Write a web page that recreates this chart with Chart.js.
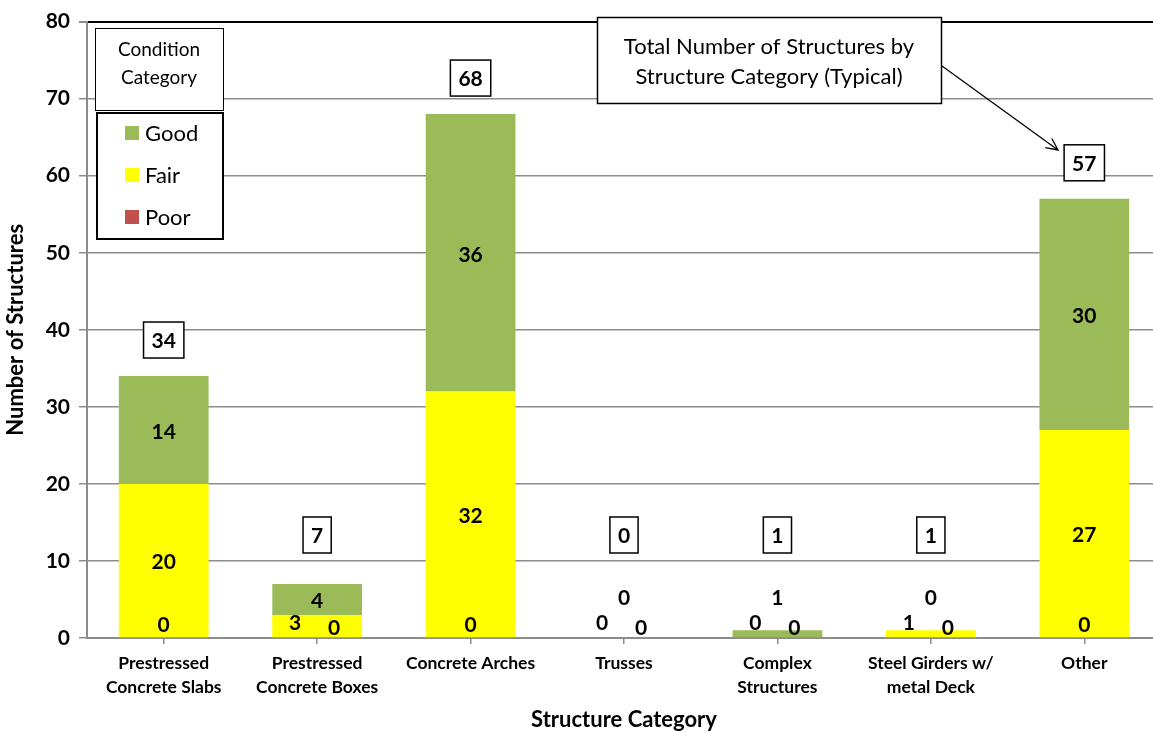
<!DOCTYPE html>
<html lang="en">
<head>
    <meta charset="UTF-8">
    <title>Structures by Category</title>
    <script src="https://cdn.jsdelivr.net/npm/chart.js@4.4.0/dist/chart.umd.min.js"></script>
    <style>
        html, body { margin: 0; padding: 0; background: #fff; overflow: hidden; }
        #wrap { position: relative; width: 1153px; height: 733px; overflow: hidden; }
    </style>
</head>
<body>
<div id="wrap">
    <canvas id="myChart" width="1161" height="733"></canvas>
</div>

<script type="text/javascript">
    var categories = [
        ["Prestressed", "Concrete Slabs"],
        ["Prestressed", "Concrete Boxes"],
        "Concrete Arches",
        "Trusses",
        ["Complex", "Structures"],
        ["Steel Girders w/", "metal Deck"],
        "Other"
    ];
    var poor = [0, 0, 0, 0, 0, 0, 0];
    var fair = [20, 3, 32, 0, 0, 1, 27];
    var good = [14, 4, 36, 0, 1, 0, 30];
    var totals = [34, 7, 68, 0, 1, 1, 57];
    var yTicks = [0, 10, 20, 30, 40, 50, 60, 70, 80];

    var FONT = "Lato, 'Liberation Sans', sans-serif";

    // labels, total boxes, legend and callout drawn by hand
    var extras = {
        id: "extras",
        afterDatasetsDraw: function (chart) {
            var ctx = chart.ctx;
            var y = chart.scales.y;
            var base = y.getPixelForValue(0);
            var mFair = chart.getDatasetMeta(1).data;
            var mGood = chart.getDatasetMeta(2).data;

            ctx.save();
            ctx.fillStyle = "#000";
            ctx.textAlign = "center";
            ctx.textBaseline = "middle";
            ctx.font = "bold 21px " + FONT;

            for (var i = 0; i < categories.length; i++) {
                var cx = mFair[i].x;
                var fairH = mFair[i].base - mFair[i].y;
                var goodH = mGood[i].base - mGood[i].y;
                var small = fairH < 30;

                // poor
                if (small) {
                    ctx.fillText(String(poor[i]), cx + 17, base - 10);
                } else {
                    ctx.fillText(String(poor[i]), cx, base - 13);
                }
                // fair
                if (small) {
                    var fy = Math.min((mFair[i].y + mFair[i].base) / 2, base - 15);
                    ctx.fillText(String(fair[i]), cx - 22, fy);
                } else {
                    ctx.fillText(String(fair[i]), cx, (mFair[i].y + mFair[i].base) / 2 + 2);
                }
                // good
                if (goodH < 30) {
                    ctx.fillText(String(good[i]), cx, base - 40);
                } else {
                    ctx.fillText(String(good[i]), cx, (mGood[i].y + mGood[i].base) / 2 + 2);
                }

                // total box
                var top = y.getPixelForValue(totals[i]);
                var ty = Math.min(top - 36, base - 103);
                var txt = String(totals[i]);
                var tw = ctx.measureText(txt).width;
                var bw = Math.max(tw + 16, 26);
                var bh = 36;
                ctx.fillStyle = "#fff";
                ctx.fillRect(cx - bw / 2, ty - bh / 2, bw, bh);
                ctx.lineWidth = 1.5;
                ctx.strokeStyle = "#000";
                ctx.strokeRect(cx - bw / 2, ty - bh / 2, bw, bh);
                ctx.fillStyle = "#000";
                ctx.fillText(txt, cx, ty + 1);
            }

            // legend title box
            ctx.lineWidth = 1;
            ctx.fillStyle = "#fff";
            ctx.fillRect(95.5, 28.5, 128, 82);
            ctx.strokeRect(95.5, 28.5, 128, 82);
            ctx.fillStyle = "#000";
            ctx.font = "19px " + FONT;
            ctx.fillText("Condition", 159, 50);
            ctx.fillText("Category", 159, 78);

            // legend box
            ctx.lineWidth = 2;
            ctx.fillStyle = "#fff";
            ctx.fillRect(97, 113, 126, 126);
            ctx.strokeRect(97, 113, 126, 126);
            var items = [["Good", "#9BBB59"], ["Fair", "#FFFF00"], ["Poor", "#C0504D"]];
            ctx.font = "22px " + FONT;
            ctx.textAlign = "left";
            for (var k = 0; k < items.length; k++) {
                var ly = 133 + k * 42;
                ctx.fillStyle = items[k][1];
                ctx.fillRect(125, ly - 7, 14, 14);
                ctx.fillStyle = "#000";
                ctx.fillText(items[k][0], 145, ly + 1);
            }

            // callout
            ctx.lineWidth = 1.5;
            ctx.fillStyle = "#fff";
            ctx.fillRect(597.5, 17.5, 344, 86);
            ctx.strokeRect(597.5, 17.5, 344, 86);
            ctx.fillStyle = "#000";
            ctx.textAlign = "center";
            ctx.font = "22px " + FONT;
            ctx.fillText("Total Number of Structures by", 769, 47);
            ctx.fillText("Structure Category (Typical)", 769, 77);

            // arrow
            var x1 = 942, y1 = 66, x2 = 1058, y2 = 150;
            ctx.lineWidth = 1.3;
            ctx.beginPath();
            ctx.moveTo(x1, y1);
            ctx.lineTo(x2, y2);
            var ang = Math.atan2(y2 - y1, x2 - x1);
            ctx.moveTo(x2 - 13 * Math.cos(ang - 0.45), y2 - 13 * Math.sin(ang - 0.45));
            ctx.lineTo(x2, y2);
            ctx.lineTo(x2 - 13 * Math.cos(ang + 0.45), y2 - 13 * Math.sin(ang + 0.45));
            ctx.stroke();

            ctx.restore();
        }
    };

    var ctx1 = document.getElementById("myChart");

    new Chart(ctx1, {
        "type": "bar",
        "data": {
            "labels": categories,
            "datasets": [{
                "label": "Poor",
                "data": poor,
                "backgroundColor": "#C0504D"
            }, {
                "label": "Fair",
                "data": fair,
                "backgroundColor": "#FFFF00"
            }, {
                "label": "Good",
                "data": good,
                "backgroundColor": "#9BBB59"
            }]
        },
        "options": {
            "responsive": false,
            "animation": false,
            "layout": {"padding": {"top": 18, "right": 0, "left": 0, "bottom": 0}},
            "datasets": {"bar": {"barPercentage": 0.585, "categoryPercentage": 1.0}},
            "plugins": {
                "legend": {"display": false},
                "tooltip": {"enabled": false}
            },
            "scales": {
                "x": {
                    "stacked": true,
                    "afterFit": function (s) { s.height = 95; },
                    "grid": {
                        "display": true,
                        "offset": false,
                        "drawOnChartArea": false,
                        "drawTicks": true,
                        "tickLength": 6,
                        "color": "#8c8c8c",
                        "lineWidth": 1.5
                    },
                    "border": {"display": true, "color": "#8c8c8c", "width": 2},
                    "ticks": {
                        "color": "#000",
                        "font": {"family": FONT, "size": 17.5, "weight": "bold", "lineHeight": 1.37},
                        "maxRotation": 0,
                        "autoSkip": false,
                        "padding": 7
                    },
                    "title": {
                        "display": true,
                        "text": "Structure Category",
                        "color": "#000",
                        "font": {"family": FONT, "size": 22, "weight": "bold"},
                        "padding": {"top": 0, "bottom": 0}
                    }
                },
                "y": {
                    "stacked": true,
                    "min": 0,
                    "max": 80,
                    "afterFit": function (s) { s.width = 87; },
                    "afterBuildTicks": function (s) {
                        s.ticks = yTicks.map(function (v) { return {value: v}; });
                    },
                    "grid": {
                        "color": function (c) { return c.tick && c.tick.value === 80 ? "#000" : "#8c8c8c"; },
                        "lineWidth": function (c) { return c.tick && c.tick.value === 80 ? 2 : 1.5; },
                        "drawTicks": true,
                        "tickLength": 8,
                        "tickColor": "#8c8c8c"
                    },
                    "border": {"display": true, "color": "#8c8c8c", "width": 2},
                    "ticks": {
                        "color": "#000",
                        "font": {"family": FONT, "size": 21, "weight": "bold"},
                        "padding": 9
                    },
                    "title": {
                        "display": true,
                        "text": "Number of Structures",
                        "color": "#000",
                        "font": {"family": FONT, "size": 22, "weight": "bold"},
                        "padding": {"top": 3, "bottom": 0}
                    }
                }
            }
        },
        "plugins": [extras]
    });
</script>

</body>
</html>
